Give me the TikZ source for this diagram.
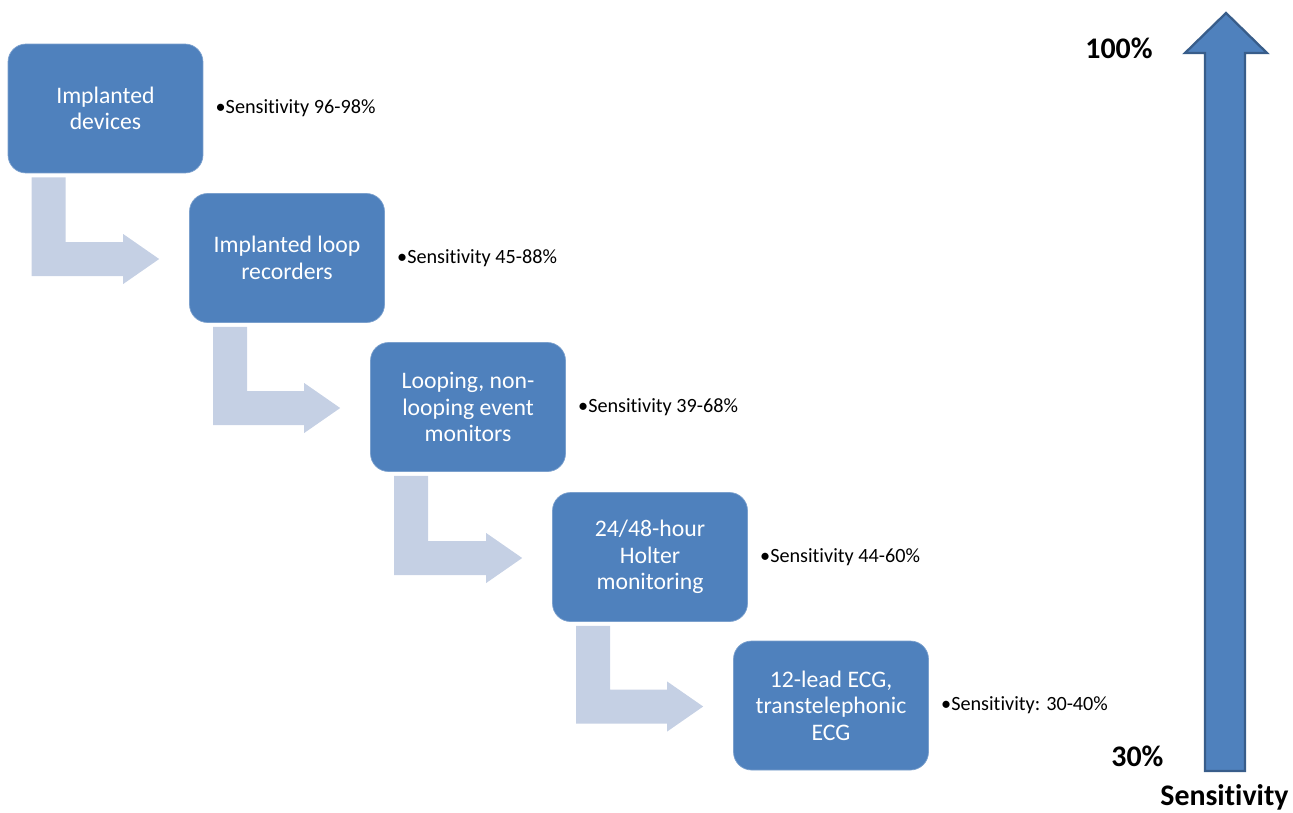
\documentclass[tikz,border=0pt]{standalone}
\usepackage{fontspec}
\setmainfont{Carlito}[Ligatures=NoCommon]
\usepackage{tikz}
\usetikzlibrary{positioning,calc}
\definecolor{boxblue}{RGB}{79,129,189}
\definecolor{flowgray}{RGB}{197,208,228}
\definecolor{edgeblue}{RGB}{56,93,138}

\begin{document}
\begin{tikzpicture}[
  x=0.02cm, y=-0.02cm,
  stage/.style={fill=boxblue, draw=boxblue!75!white, rounded corners=3.6mm,
                align=center, text=white, inner sep=0pt,
                minimum width=3.9cm, minimum height=2.58cm,
                font=\fontsize{13.5}{15}\selectfont},
  sens/.style={inner sep=0pt, font=\fontsize{11.5}{13}\selectfont},
  pct/.style={inner sep=0pt, font=\fontsize{17}{19}\selectfont\bfseries},
  flow/.style={fill=flowgray}
]
\useasboundingbox (0,0) rectangle (1293,812);

% ---- stages ----
\node[stage] (b1) at (105.5,108.5) {Implanted\\devices};
\node[stage] (b2) at (287,258)     {Implanted loop\\recorders};
\node[stage] (b3) at (468,407)     {Looping, non-\\looping event\\monitors};
\node[stage] (b4) at (650,557)     {24/48-hour\\Holter\\monitoring};
\node[stage] (b5) at (831,705.5)   {12-lead ECG,\\transtelephonic\\ECG};

\node[sens, right=2.4mm of b1] (s1) {\textbullet Sensitivity 96-98\%};
\node[sens, right=2.4mm of b2] (s2) {\textbullet Sensitivity 45-88\%};
\node[sens, right=2.4mm of b3] (s3) {\textbullet Sensitivity 39-68\%};
\node[sens, right=2.4mm of b4] (s4) {\textbullet Sensitivity 44-60\%};
\node[sens, right=2.4mm of b5] (s5) {\textbullet Sensitivity: 30-40\%};

% ---- bent arrows between stages ----
\fill[flow] ($(b1.south west)+(24,4)$) -- ++(34,0) |- ($(b2.west)+(-66,-16)$)
  -- ++(0,-8) -- ($(b2.west)+(-30,1)$) -- ($(b2.west)+(-66,26)$) -- ++(0,-8)
  -| ($(b1.south west)+(24,4)$) -- cycle;
\fill[flow] ($(b2.south west)+(24,4)$) -- ++(34,0) |- ($(b3.west)+(-66,-16)$)
  -- ++(0,-8) -- ($(b3.west)+(-30,1)$) -- ($(b3.west)+(-66,26)$) -- ++(0,-8)
  -| ($(b2.south west)+(24,4)$) -- cycle;
\fill[flow] ($(b3.south west)+(24,4)$) -- ++(34,0) |- ($(b4.west)+(-66,-16)$)
  -- ++(0,-8) -- ($(b4.west)+(-30,1)$) -- ($(b4.west)+(-66,26)$) -- ++(0,-8)
  -| ($(b3.south west)+(24,4)$) -- cycle;
\fill[flow] ($(b4.south west)+(24,4)$) -- ++(34,0) |- ($(b5.west)+(-66,-16)$)
  -- ++(0,-8) -- ($(b5.west)+(-30,1)$) -- ($(b5.west)+(-66,26)$) -- ++(0,-8)
  -| ($(b4.south west)+(24,4)$) -- cycle;

% ---- sensitivity scale ----
\filldraw[fill=boxblue, draw=edgeblue, line width=1.3pt]
  (1205,771) -- (1205,53) -- (1185,53) -- (1226,13) -- (1267,53)
  -- (1245,53) -- (1245,771) -- cycle;
\node[pct, anchor=base west] (top) at (1085,58)  {100\%};
\node[pct, anchor=base west] (bot) at (1111,766) {30\%};
\node[pct, anchor=base west] (ax)  at (1160,805) {Sensitivity};
\end{tikzpicture}
\end{document}
